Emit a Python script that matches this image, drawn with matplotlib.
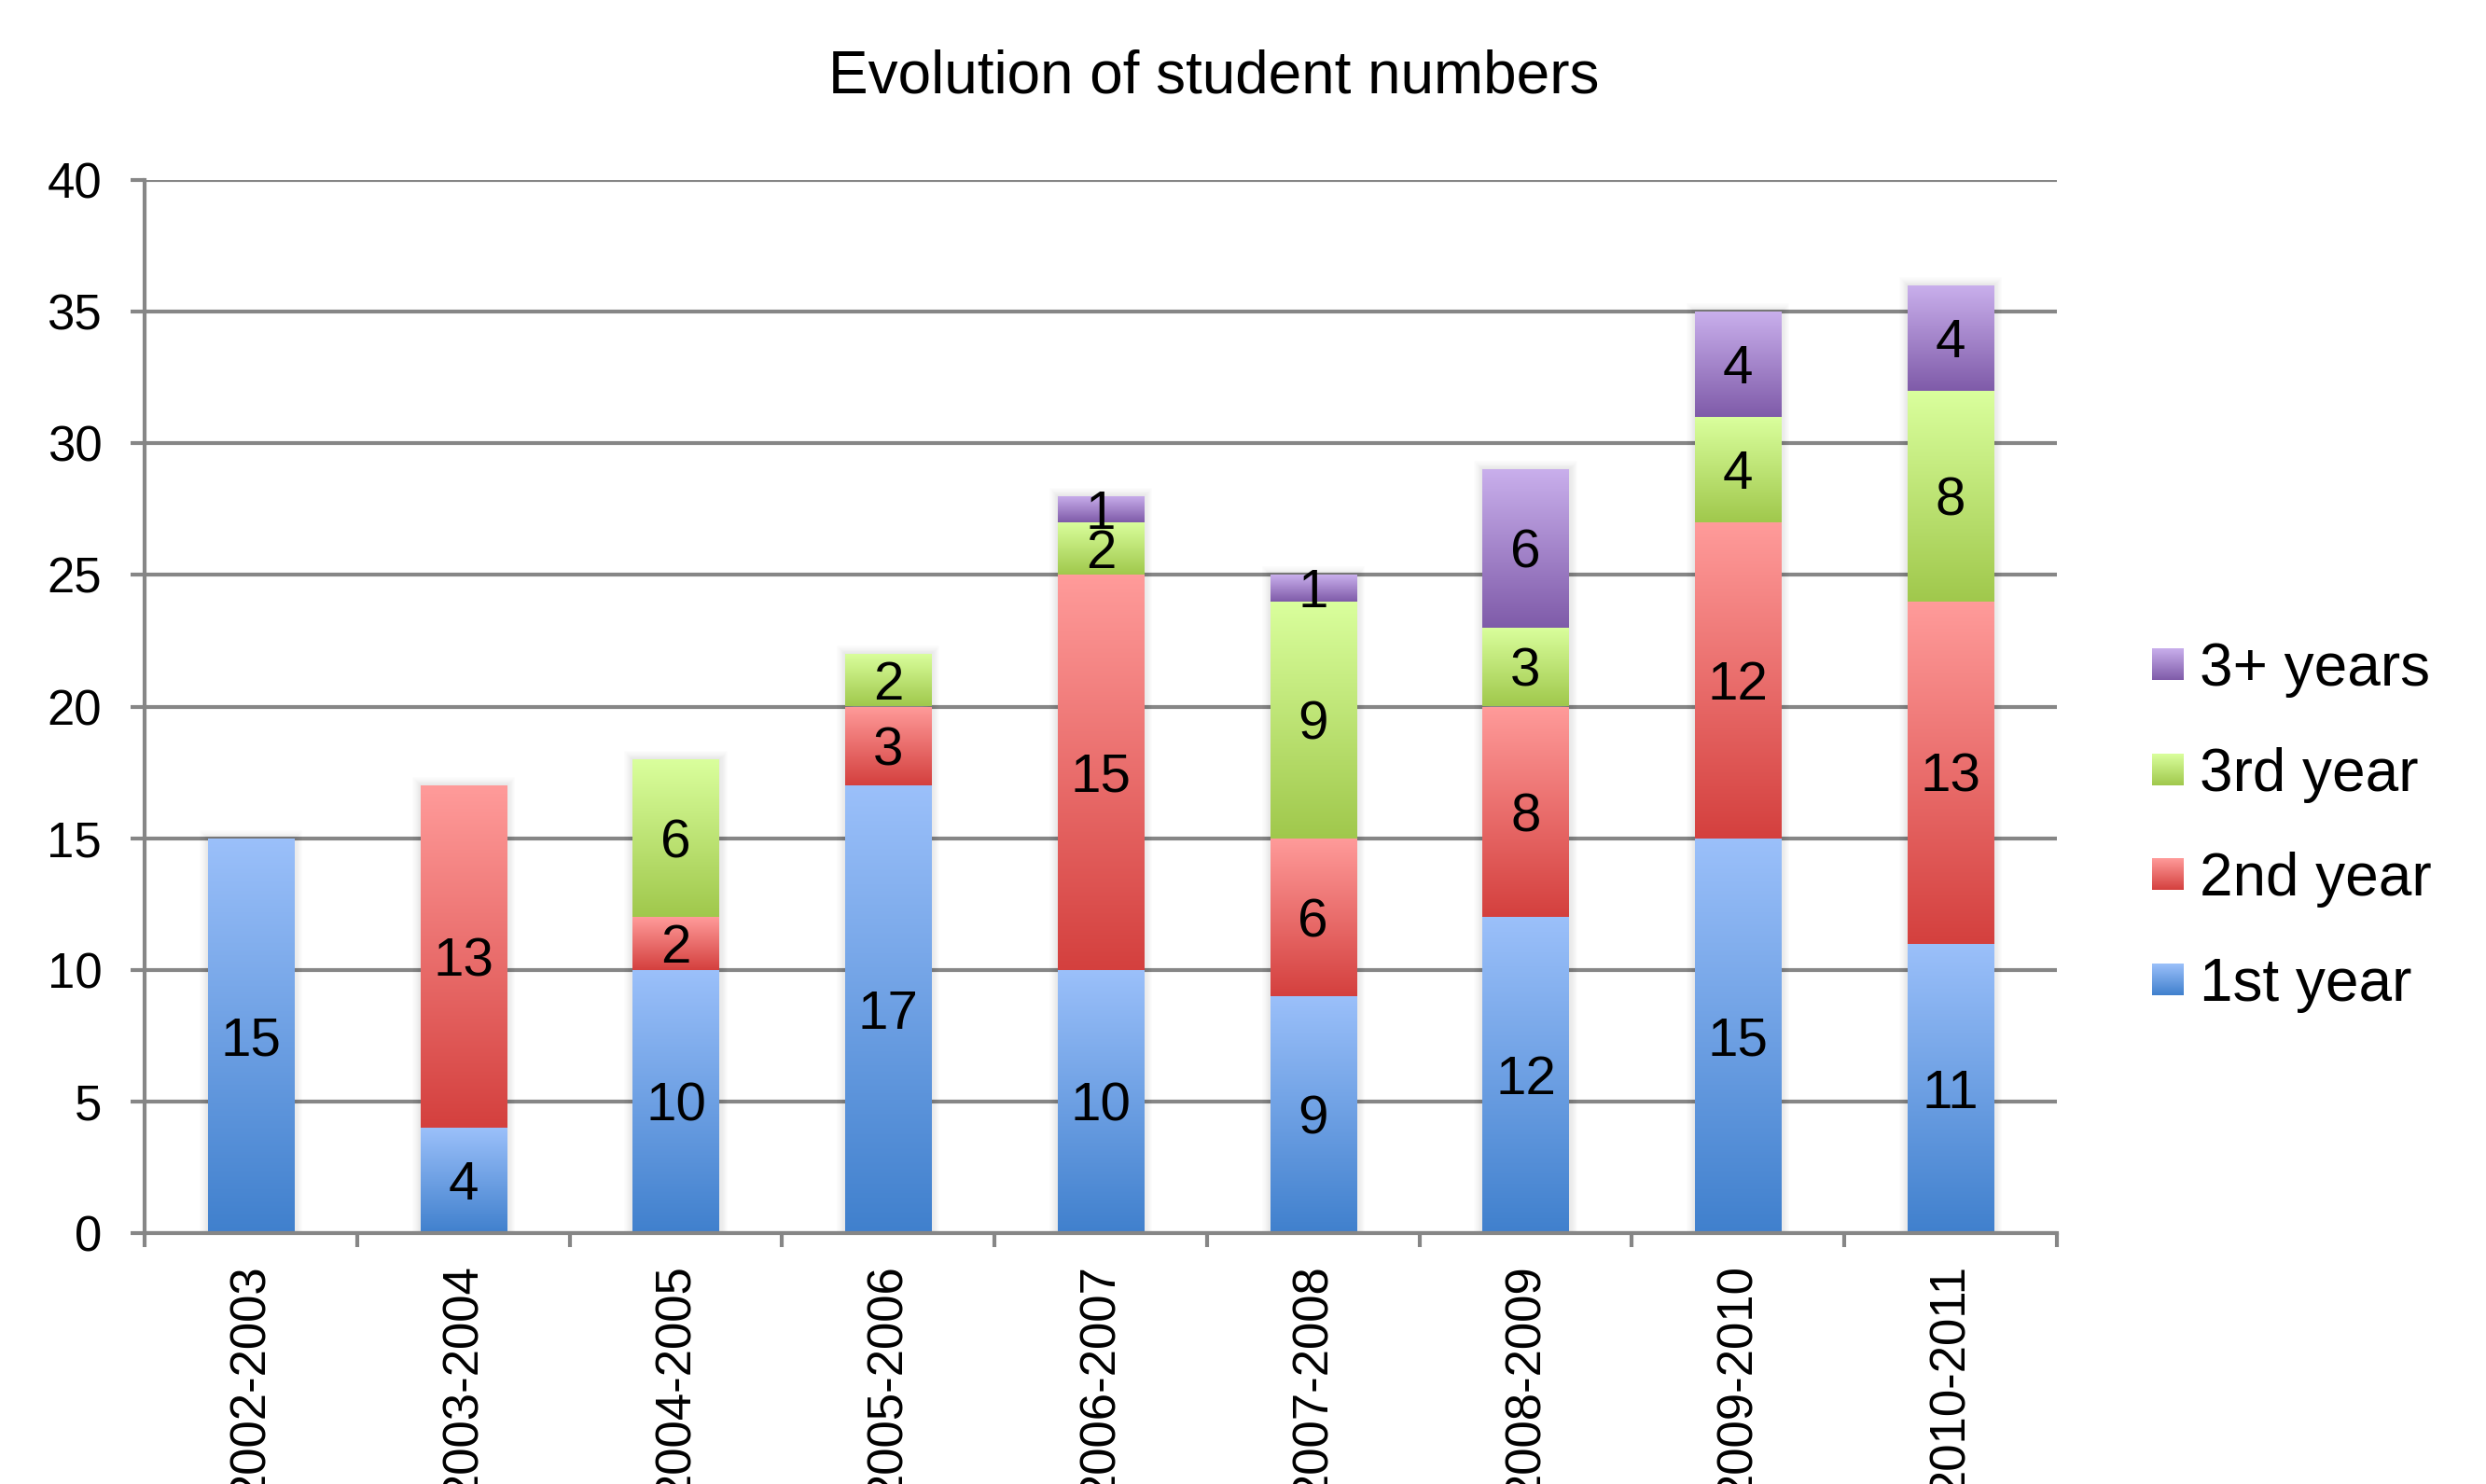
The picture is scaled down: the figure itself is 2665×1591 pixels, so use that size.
import numpy as np
import matplotlib
matplotlib.use("Agg")
import matplotlib.pyplot as plt
from matplotlib.colors import LinearSegmentedColormap

plt.rcParams['font.family'] = ['Liberation Sans', 'DejaVu Sans']

# data
anos = ["2002-2003", "2003-2004", "2004-2005", "2005-2006", "2006-2007",
        "2007-2008", "2008-2009", "2009-2010", "2010-2011"]
primeiro = [15, 4, 10, 17, 10, 9, 12, 15, 11]
segundo = [0, 13, 2, 3, 15, 6, 8, 12, 13]
terceiro = [0, 0, 6, 2, 2, 9, 3, 4, 8]
mais = [0, 0, 0, 0, 1, 1, 6, 4, 4]
series_nomes = ["1st year", "2nd year", "3rd year", "3+ years"]

# (bottom colour, top colour) of each gradient
cores = [("#4080CD", "#9BC0FA"),
         ("#D4403E", "#FF9B9A"),
         ("#A0C84C", "#DAFF9D"),
         ("#7F5BA9", "#C9AFEC")]

W, H = 2665, 1591
fig = plt.figure(figsize=(W / 100, H / 100), dpi=100)
ax = fig.add_axes([155 / W, 1 - 1322 / H, (2205 - 155) / W, (1322 - 193) / H])

cinza = "#868686"
x = np.arange(len(anos))
largura = 0.405
grad = np.linspace(0, 1, 256).reshape(-1, 1)

totais = np.array(primeiro) + np.array(segundo) + np.array(terceiro) + np.array(mais)

# soft shadow around each stack
for k in range(1, 9):
    ax.bar(x, totais, largura, color="none", edgecolor="black",
           linewidth=1.6 * k, alpha=0.012, zorder=2)

base = np.zeros(len(anos))
for valores, (c0, c1) in zip([primeiro, segundo, terceiro, mais], cores):
    valores = np.array(valores, dtype=float)
    cmap = LinearSegmentedColormap.from_list("g", [c0, c1])
    barras = ax.bar(x, valores, largura, bottom=base, color="none",
                    edgecolor="none", zorder=3)
    for xi, b0, v, barra in zip(x, base, valores, barras):
        if v <= 0:
            continue
        im = ax.imshow(grad, cmap=cmap, origin="lower", aspect="auto",
                       extent=[xi - largura / 2, xi + largura / 2, b0, b0 + v],
                       zorder=3, interpolation="bilinear")
        im.set_clip_path(barra)
        ax.annotate(f"{int(v)}", (xi, b0 + v / 2), xytext=(0, -15),
                    textcoords="offset points", ha="center", va="baseline",
                    fontsize=42, color="black", zorder=5)
    base = base + valores

ax.set_xlim(-0.5, len(anos) - 0.5)
ax.set_ylim(0, 40)
ax.set_yticks(range(0, 41, 5))
ax.set_xticks(x)
ax.set_xticklabels(anos, rotation=90, fontsize=38)
ax.set_xticks(np.arange(-0.5, len(anos)), minor=True)
ax.tick_params(axis="x", which="major", length=0, pad=24)
ax.tick_params(axis="x", which="minor", length=11, width=3, color=cinza,
               direction="out")
ax.tick_params(axis="y", length=11, width=3, color=cinza, pad=22,
               labelsize=38)
for s in ["top", "right"]:
    ax.spines[s].set_visible(False)
for s in ["left", "bottom"]:
    ax.spines[s].set_color(cinza)
    ax.spines[s].set_linewidth(3)
    ax.spines[s].set_zorder(4)
ax.yaxis.grid(True, color=cinza, linewidth=3, zorder=0)
ax.set_axisbelow(True)

fig.text(1301 / W, 1 - 100 / H, "Evolution of student numbers",
         ha="center", va="baseline", fontsize=46)

# legend drawn by hand so the swatches keep the gradient
centros = [1050, 937, 825, 712]
for nome, (c0, c1), cy in zip(series_nomes, cores, centros):
    lax = fig.add_axes([2307 / W, 1 - (cy + 17) / H, 34 / W, 34 / H])
    lax.imshow(grad, cmap=LinearSegmentedColormap.from_list("g", [c0, c1]),
               origin="lower", aspect="auto", interpolation="bilinear")
    lax.set_axis_off()
    fig.text(2358 / W, 1 - (cy + 23) / H, nome, ha="left", va="baseline",
             fontsize=46)

fig.savefig("out.png", dpi=100)
